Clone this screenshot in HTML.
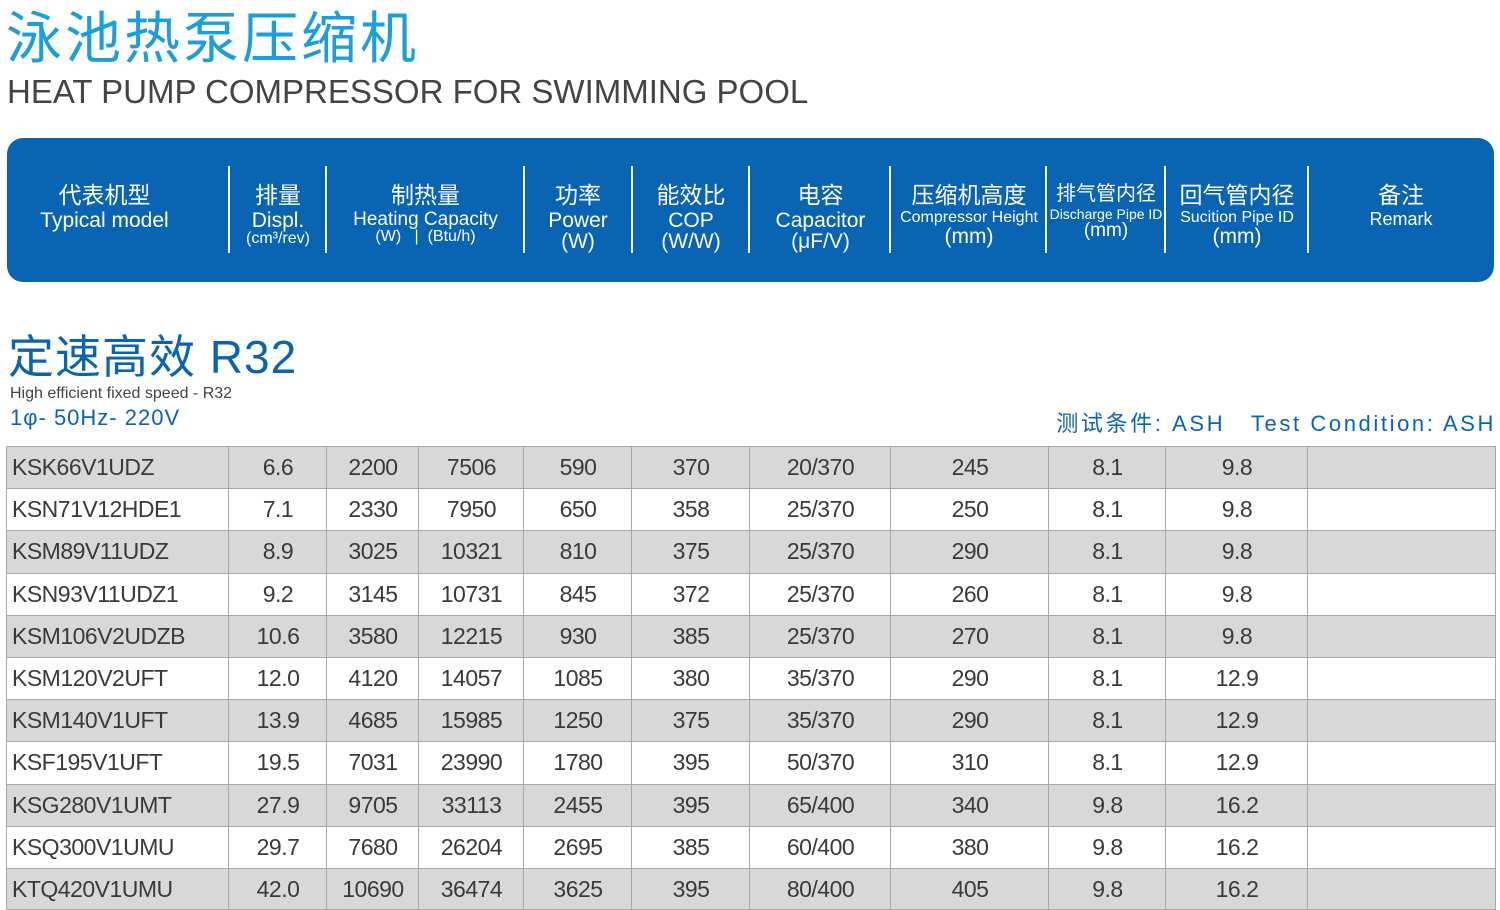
<!DOCTYPE html>
<html><head><meta charset="utf-8">
<style>
html,body{margin:0;padding:0;background:#fff;}
body{width:1500px;height:910px;position:relative;overflow:hidden;font-family:"Liberation Sans","Noto Sans CJK SC",sans-serif;}
.abs{position:absolute;}
.hbar{left:7px;top:138px;width:1487px;height:144px;background:#0a64b4;border-radius:16px;}
.hc{position:absolute;top:184px;color:#fff;text-align:center;line-height:1;}
.hc .cn{font-size:23px;display:block;margin-bottom:3px;}
.hc .en{font-size:21px;display:block;}
.hc .sm{font-size:16px;display:block;}
.sep{position:absolute;top:166px;width:2px;height:87px;background:#fff;}
.cell{position:absolute;font-size:23px;color:#3a3a3a;line-height:42px;text-align:center;letter-spacing:-0.5px;}
</style></head><body>
<div class="abs" style="left:6px;top:4px;font-size:56px;color:#1b9fdc;letter-spacing:3px;line-height:70px;">泳池热泵压缩机</div>
<div class="abs" style="left:7px;top:72px;font-size:33px;color:#444;line-height:40px;">HEAT PUMP COMPRESSOR FOR SWIMMING POOL</div>

<div class="abs hbar"></div>
<div class="hc" style="left:7px;width:195px;"><span class="cn">代表机型</span><span class="en">Typical model</span></div>
<div class="hc" style="left:229px;width:98px;"><span class="cn">排量</span><span class="en">Displ.</span><span class="sm">(cm³/rev)</span></div>
<div class="hc" style="left:327px;width:197px;"><span class="cn">制热量</span><span class="sm" style="font-size:19px;">Heating Capacity</span><span class="sm">(W) &nbsp; | &nbsp;(Btu/h)</span></div>
<div class="hc" style="left:524px;width:108px;"><span class="cn">功率</span><span class="en">Power</span><span class="en">(W)</span></div>
<div class="hc" style="left:632px;width:118px;"><span class="cn">能效比</span><span class="en">COP</span><span class="en">(W/W)</span></div>
<div class="hc" style="left:750px;width:141px;"><span class="cn">电容</span><span class="en">Capacitor</span><span class="en">(μF/V)</span></div>
<div class="hc" style="left:891px;width:156px;"><span class="cn">压缩机高度</span><span class="sm">Compressor Height</span><span class="en">(mm)</span></div>
<div class="hc" style="left:1047px;width:118px;"><span class="cn" style="font-size:20px;">排气管内径</span><span class="sm" style="font-size:14px;">Discharge Pipe ID</span><span class="en" style="font-size:19px;">(mm)</span></div>
<div class="hc" style="left:1166px;width:142px;"><span class="cn">回气管内径</span><span class="sm">Sucition Pipe ID</span><span class="en">(mm)</span></div>
<div class="hc" style="left:1308px;width:186px;"><span class="cn">备注</span><span class="sm" style="font-size:18px;">Remark</span></div>
<div class="sep" style="left:228px"></div>
<div class="sep" style="left:325px"></div>
<div class="sep" style="left:523px"></div>
<div class="sep" style="left:631px"></div>
<div class="sep" style="left:748px"></div>
<div class="sep" style="left:889px"></div>
<div class="sep" style="left:1045px"></div>
<div class="sep" style="left:1164px"></div>
<div class="sep" style="left:1307px"></div>

<div class="abs" style="left:8px;top:329px;font-size:46px;color:#0a64b4;line-height:56px;letter-spacing:1px;">定速高效 R32</div>
<div class="abs" style="left:10px;top:385px;font-size:16px;color:#444;">High efficient fixed speed - R32</div>
<div class="abs" style="left:10px;top:405px;font-size:22px;color:#0a64b4;letter-spacing:1px;">1φ- 50Hz- 220V</div>
<div class="abs" style="right:4px;top:406px;font-size:22px;color:#0a64b4;letter-spacing:2.6px;">测试条件: ASH &nbsp; Test Condition: ASH</div>

<div id="tbl"></div>
<script>
const models=["KSK66V1UDZ","KSN71V12HDE1","KSM89V11UDZ","KSN93V11UDZ1","KSM106V2UDZB","KSM120V2UFT","KSM140V1UFT","KSF195V1UFT","KSG280V1UMT","KSQ300V1UMU","KTQ420V1UMU"];
const displ=["6.6","7.1","8.9","9.2","10.6","12.0","13.9","19.5","27.9","29.7","42.0"];
const heatW=["2200","2330","3025","3145","3580","4120","4685","7031","9705","7680","10690"];
const heatBtu=["7506","7950","10321","10731","12215","14057","15985","23990","33113","26204","36474"];
const power=["590","650","810","845","930","1085","1250","1780","2455","2695","3625"];
const cop=["370","358","375","372","385","380","375","395","395","385","395"];
const capacitor=["20/370","25/370","25/370","25/370","25/370","35/370","35/370","50/370","65/400","60/400","80/400"];
const heightMm=["245","250","290","260","270","290","290","310","340","380","405"];
const discharge=["8.1","8.1","8.1","8.1","8.1","8.1","8.1","8.1","9.8","9.8","9.8"];
const suction=["9.8","9.8","9.8","9.8","9.8","12.9","12.9","12.9","16.2","16.2","16.2"];
const colEdges=[7,229,327,419,524,632,750,891,1049,1166,1308,1496];
const cols=[models,displ,heatW,heatBtu,power,cop,capacitor,heightMm,discharge,suction];
const colNames=["model","displ","heat-w","heat-btu","power","cop","capacitor","height","discharge","suction"];
const top0=446,rh=42.2;
const t=document.getElementById('tbl');
const n=models.length;
let h='';
for(let r=0;r<n;r++){
  const y=top0+r*rh, bg=r%2===0?'#d8d8d8':'#fff';
  h+=`<div class="abs" style="left:7px;top:${y}px;width:1489px;height:${rh}px;background:${bg};border-top:1px solid #a8a8a8;box-sizing:border-box;"></div>`;
}
h+=`<div class="abs" style="left:7px;top:${top0+n*rh-1}px;width:1489px;height:1px;background:#a8a8a8;"></div>`;
for(const x of colEdges){
  h+=`<div class="abs" style="left:${x-1}px;top:${top0}px;width:1px;height:${n*rh}px;background:#a8a8a8;"></div>`;
}
for(let r=0;r<n;r++){
  const y=top0+r*rh;
  cols.forEach((c,i)=>{
    const l=colEdges[i],w=colEdges[i+1]-colEdges[i];
    const st=i===0?`left:${l+5}px;width:${w}px;text-align:left;`:`left:${l}px;width:${w}px;`;
    h+=`<div class="cell" style="${st}top:${y}px;">${c[r]}</div>`;
  });
}
t.innerHTML=h;
</script>
</body></html>
